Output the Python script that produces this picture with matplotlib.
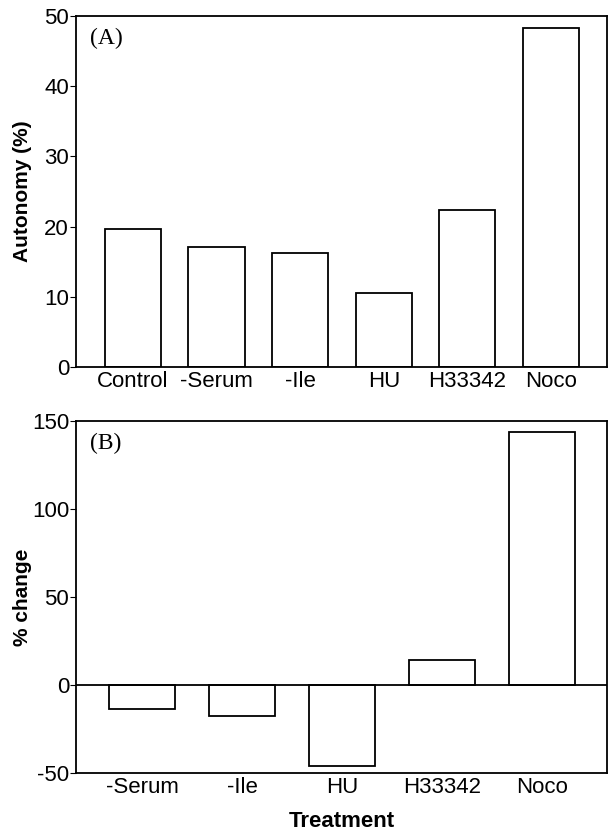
import matplotlib.pyplot as plt

plt.rcParams['font.family'] = ['Liberation Sans', 'DejaVu Sans']
plt.rcParams['axes.unicode_minus'] = False

# panel A
treatments_a = ["Control", "-Serum", "-Ile", "HU", "H33342", "Noco"]
autonomy = [19.7, 17.1, 16.2, 10.6, 22.4, 48.3]

# panel B
treatments_b = ["-Serum", "-Ile", "HU", "H33342", "Noco"]
pct_change = [-13.5, -17.6, -46.0, 14.2, 143.5]

fig = plt.figure(figsize=(6.09, 8.34), dpi=100)

ax1 = fig.add_axes([0.1248, 0.560, 0.872, 0.421])
ax1.bar(range(len(treatments_a)), autonomy, width=0.67,
        color="white", edgecolor="black", linewidth=1.3)
ax1.set_xlim(-0.68, 5.67)
ax1.set_ylim(0, 50)
ax1.set_yticks([0, 10, 20, 30, 40, 50])
ax1.set_xticks(range(len(treatments_a)))
ax1.set_xticklabels(treatments_a)
ax1.tick_params(axis="x", length=0, labelsize=16, pad=3)
ax1.tick_params(axis="y", length=4, labelsize=16, pad=1)
ax1.set_ylabel("Autonomy (%)", fontsize=15, fontweight="bold")
ax1.yaxis.set_label_coords(-0.082, 0.5)
ax1.text(0.026, 0.965, "(A)", transform=ax1.transAxes, fontsize=17,
         family="Liberation Serif", va="top")
for s in ax1.spines.values():
    s.set_linewidth(1.3)

ax2 = fig.add_axes([0.1248, 0.0731, 0.872, 0.4221])
ax2.bar(range(len(treatments_b)), pct_change, width=0.66,
        color="white", edgecolor="black", linewidth=1.3)
ax2.axhline(0, color="black", linewidth=1.3)
ax2.set_xlim(-0.66, 4.65)
ax2.set_ylim(-50, 150)
ax2.set_yticks([-50, 0, 50, 100, 150])
ax2.set_xticks(range(len(treatments_b)))
ax2.set_xticklabels(treatments_b)
ax2.tick_params(axis="x", length=0, labelsize=16, pad=3)
ax2.tick_params(axis="y", length=4, labelsize=16, pad=1)
ax2.set_ylabel("% change", fontsize=15, fontweight="bold")
ax2.yaxis.set_label_coords(-0.082, 0.5)
ax2.set_xlabel("Treatment", fontsize=16, fontweight="bold", labelpad=9)
ax2.text(0.026, 0.965, "(B)", transform=ax2.transAxes, fontsize=17,
         family="Liberation Serif", va="top")
for s in ax2.spines.values():
    s.set_linewidth(1.3)

fig.savefig("out.png", dpi=100)
